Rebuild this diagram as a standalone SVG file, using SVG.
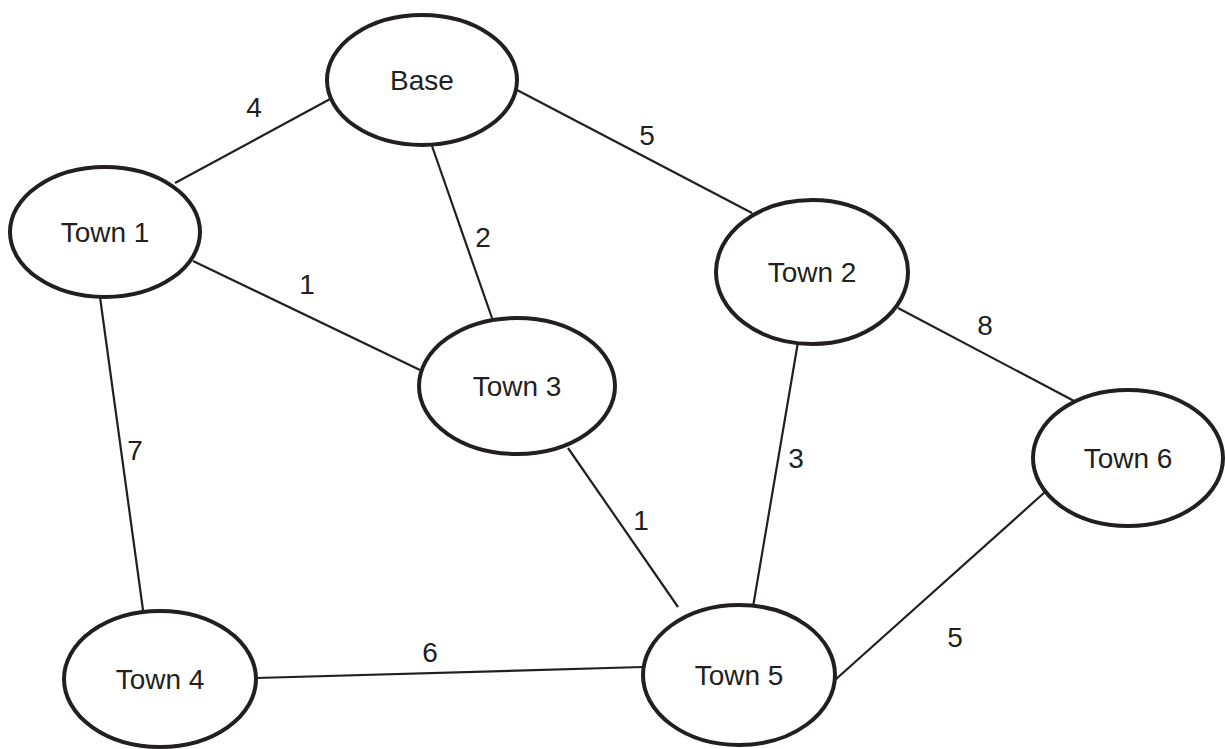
<svg xmlns="http://www.w3.org/2000/svg" width="1225" height="749" viewBox="0 0 1225 749">
<style>
.node ellipse{fill:#fff;stroke:#231f20;stroke-width:4}
.node text,.lbl{font-family:"Liberation Sans",Arial,sans-serif;font-size:28px;fill:#231f20;text-anchor:middle;dominant-baseline:central}
#edges line{stroke:#231f20;stroke-width:2.2}
</style>
<rect width="1225" height="749" fill="#fff"/>
<g id="edges">
<line x1="175" y1="183" x2="332" y2="98"/>
<line x1="517" y1="90" x2="752" y2="213"/>
<line x1="432" y1="146" x2="492" y2="318"/>
<line x1="193" y1="261" x2="420" y2="370"/>
<line x1="100" y1="297" x2="143" y2="610"/>
<line x1="568" y1="448" x2="678" y2="607"/>
<line x1="798" y1="342" x2="753" y2="607"/>
<line x1="898" y1="308" x2="1076" y2="402"/>
<line x1="1045" y1="492" x2="835" y2="680"/>
<line x1="256" y1="678" x2="643" y2="667"/>
</g>
<g id="labels">
<text class="lbl" x="254" y="107">4</text>
<text class="lbl" x="647" y="135">5</text>
<text class="lbl" x="483" y="237">2</text>
<text class="lbl" x="307" y="284">1</text>
<text class="lbl" x="135" y="450">7</text>
<text class="lbl" x="985" y="325">8</text>
<text class="lbl" x="796" y="458">3</text>
<text class="lbl" x="641" y="520">1</text>
<text class="lbl" x="955" y="637">5</text>
<text class="lbl" x="430" y="652">6</text>
</g>
<g id="base" class="node"><ellipse cx="422" cy="80" rx="95" ry="65"/><text x="422" y="80">Base</text></g>
<g id="town1" class="node"><ellipse cx="105" cy="232" rx="95" ry="65"/><text x="105" y="232">Town 1</text></g>
<g id="town2" class="node"><ellipse cx="812" cy="272" rx="96" ry="72"/><text x="812" y="272">Town 2</text></g>
<g id="town3" class="node"><ellipse cx="517" cy="386" rx="98" ry="68"/><text x="517" y="386">Town 3</text></g>
<g id="town6" class="node"><ellipse cx="1128" cy="458" rx="95" ry="68"/><text x="1128" y="458">Town 6</text></g>
<g id="town4" class="node"><ellipse cx="160" cy="679" rx="96" ry="68"/><text x="160" y="679">Town 4</text></g>
<g id="town5" class="node"><ellipse cx="739" cy="675" rx="96" ry="70"/><text x="739" y="675">Town 5</text></g>
</svg>
